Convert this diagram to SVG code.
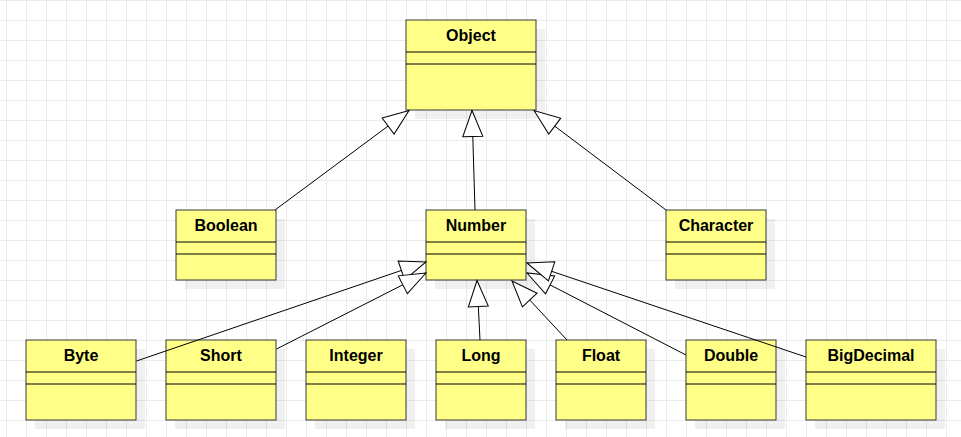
<svg xmlns="http://www.w3.org/2000/svg" width="961" height="437" viewBox="0 0 961 437">
  <defs>
    <pattern id="grid" x="6" y="0" width="20" height="20" patternUnits="userSpaceOnUse">
      <path d="M0.5,0 V20 M0,0.5 H20" fill="none" stroke="#ebebeb" stroke-width="1"/>
    </pattern>
    <marker id="tri" markerUnits="userSpaceOnUse" markerWidth="30" markerHeight="24" viewBox="0 0 30 24" refX="28" refY="12" orient="auto" overflow="visible">
      <path d="M28,12 L2,2 L2,22 Z" fill="#ffffff" stroke="#000000" stroke-width="1"/>
    </marker>
    <style>
      .shadow { fill: #000000; fill-opacity: 0.06; }
      .box { fill: #ffff88; stroke: #36393d; stroke-width: 1; }
      .div { stroke: #000000; stroke-width: 1; fill: none; }
      .lbl { font-family: "Liberation Sans", Arial, Helvetica, sans-serif; font-size: 16px; font-weight: bold; fill: #000000; text-anchor: middle; }
      .edge { fill: none; stroke: #000000; stroke-width: 1; marker-end: url(#tri); }
    </style>
  </defs>
  <rect width="961" height="437" fill="#ffffff"/>
  <rect width="961" height="437" fill="url(#grid)"/>

  <g id="node-Object">
    <rect class="shadow" x="415" y="29" width="130" height="90"/>
    <rect class="box" x="406" y="20" width="130" height="90"/>
    <path class="div" d="M406,52 H536 M406,64 H536"/>
    <text class="lbl" x="471" y="41">Object</text>
  </g>
  <g id="node-Boolean">
    <rect class="shadow" x="185" y="219" width="100" height="70"/>
    <rect class="box" x="176" y="210" width="100" height="70"/>
    <path class="div" d="M176,242 H276 M176,254 H276"/>
    <text class="lbl" x="226" y="231">Boolean</text>
  </g>
  <g id="node-Number">
    <rect class="shadow" x="435" y="219" width="100" height="70"/>
    <rect class="box" x="426" y="210" width="100" height="70"/>
    <path class="div" d="M426,242 H526 M426,254 H526"/>
    <text class="lbl" x="476" y="231">Number</text>
  </g>
  <g id="node-Character">
    <rect class="shadow" x="675" y="219" width="100" height="70"/>
    <rect class="box" x="666" y="210" width="100" height="70"/>
    <path class="div" d="M666,242 H766 M666,254 H766"/>
    <text class="lbl" x="716" y="231">Character</text>
  </g>
  <g id="node-Byte">
    <rect class="shadow" x="35" y="349" width="110" height="80"/>
    <rect class="box" x="26" y="340" width="110" height="80"/>
    <path class="div" d="M26,372 H136 M26,384 H136"/>
    <text class="lbl" x="81" y="361">Byte</text>
  </g>
  <g id="node-Short">
    <rect class="shadow" x="175" y="349" width="110" height="80"/>
    <rect class="box" x="166" y="340" width="110" height="80"/>
    <path class="div" d="M166,372 H276 M166,384 H276"/>
    <text class="lbl" x="221" y="361">Short</text>
  </g>
  <g id="node-Integer">
    <rect class="shadow" x="315" y="349" width="100" height="80"/>
    <rect class="box" x="306" y="340" width="100" height="80"/>
    <path class="div" d="M306,372 H406 M306,384 H406"/>
    <text class="lbl" x="356" y="361">Integer</text>
  </g>
  <g id="node-Long">
    <rect class="shadow" x="445" y="349" width="90" height="80"/>
    <rect class="box" x="436" y="340" width="90" height="80"/>
    <path class="div" d="M436,372 H526 M436,384 H526"/>
    <text class="lbl" x="481" y="361">Long</text>
  </g>
  <g id="node-Float">
    <rect class="shadow" x="565" y="349" width="90" height="80"/>
    <rect class="box" x="556" y="340" width="90" height="80"/>
    <path class="div" d="M556,372 H646 M556,384 H646"/>
    <text class="lbl" x="601" y="361">Float</text>
  </g>
  <g id="node-Double">
    <rect class="shadow" x="695" y="349" width="90" height="80"/>
    <rect class="box" x="686" y="340" width="90" height="80"/>
    <path class="div" d="M686,372 H776 M686,384 H776"/>
    <text class="lbl" x="731" y="361">Double</text>
  </g>
  <g id="node-BigDecimal">
    <rect class="shadow" x="815" y="349" width="130" height="80"/>
    <rect class="box" x="806" y="340" width="130" height="80"/>
    <path class="div" d="M806,372 H936 M806,384 H936"/>
    <text class="lbl" x="871" y="361">BigDecimal</text>
  </g>

  <g id="connectors">
    <path class="edge" d="M275,210 L409,110.5"/>
    <path class="edge" d="M475,210 L472,110.5"/>
    <path class="edge" d="M666,210 L534,110.5"/>
    <path class="edge" d="M136.5,361 L426,262"/>
    <path class="edge" d="M276.5,349 L426,273"/>
    <path class="edge" d="M480,340 L477,280.5"/>
    <path class="edge" d="M567,340 L512,281"/>
    <path class="edge" d="M686,355 L527,273"/>
    <path class="edge" d="M806,357 L527,263"/>
  </g>
</svg>
